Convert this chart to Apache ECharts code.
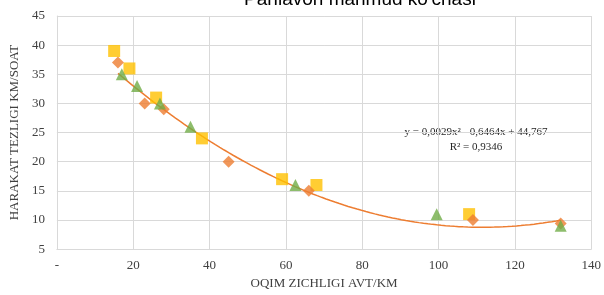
<!DOCTYPE html>
<html>
<head>
<meta charset="utf-8">
<script src="https://cdn.jsdelivr.net/npm/echarts@6/dist/echarts.min.js"></script>
<style>html,body{margin:0;padding:0;background:#fff}#c{width:604px;height:295px}</style>
</head>
<body>
<div id="c"></div>
<script>
const chartTitle = "Pahlavon mahmud ko'chasi";
const xAxisName = "OQIM ZICHLIGI AVT/KM";
const yAxisName = "HARAKAT TEZLIGI KM/SOAT";
const squareX = [15, 19, 26, 38, 59, 68, 108];
const squareY = [39, 36, 31, 24, 17, 16, 11];
const diamondX = [16, 23, 28, 45, 66, 109, 132];
const diamondY = [37, 30, 29, 20, 15, 10, 9.4];
const triangleX = [17, 21, 27, 35, 62.5, 99.5, 132];
const triangleY = [35, 33, 30, 26, 16, 11, 9];
const trendCoef = [0.0029, -0.6464, 44.767];
const trendText = "y = 0,0029x² - 0,6464x + 44,767\nR² = 0,9346";

const zip = (xs, ys) => xs.map((x, i) => [x, ys[i]]);
const xmin = Math.min(...diamondX), xmax = Math.max(...diamondX);
const trend = [];
for (let i = 0; i <= 100; i++) {
  const x = xmin + (xmax - xmin) * i / 100;
  trend.push([x, trendCoef[0] * x * x + trendCoef[1] * x + trendCoef[2]]);
}
const serif = "Liberation Serif";
const chart = echarts.init(document.getElementById('c'));
chart.setOption({
  animation: false,
  title: {
    text: chartTitle, left: 355, top: -15, textAlign: 'center',
    textStyle: { fontFamily: 'Liberation Sans', fontSize: 19, fontWeight: 'normal', color: '#000' }
  },
  grid: { left: 53, right: 11, top: 16, bottom: 44, containLabel: false },
  xAxis: {
    type: 'value', min: 0, max: 140, interval: 20,
    name: xAxisName, nameLocation: 'middle', nameGap: 26,
    nameTextStyle: { fontFamily: serif, fontSize: 13, color: '#404040' },
    axisLine: { show: true, lineStyle: { color: '#d9d9d9' } },
    axisTick: { show: false },
    splitLine: { show: true, lineStyle: { color: '#d9d9d9', width: 1 } },
    axisLabel: { fontFamily: serif, fontSize: 13, color: '#404040', margin: 10,
      formatter: v => v === 0 ? '-' : String(v) }
  },
  yAxis: {
    type: 'value', min: 5, max: 45, interval: 5,
    name: yAxisName, nameLocation: 'middle', nameGap: 29, nameRotate: 90,
    nameTextStyle: { fontFamily: serif, fontSize: 13, color: '#404040' },
    axisLine: { show: true, lineStyle: { color: '#d9d9d9' } },
    axisTick: { show: false },
    splitLine: { show: true, lineStyle: { color: '#d9d9d9', width: 1 } },
    axisLabel: { fontFamily: serif, fontSize: 13, color: '#404040', margin: 12 }
  },
  series: [
    { type: 'line', data: trend, showSymbol: false, symbol: 'none', smooth: false,
      lineStyle: { color: '#ED7D31', width: 1.5 }, z: 1, silent: true },
    { type: 'scatter', data: zip(squareX, squareY), symbol: 'rect', symbolSize: 12,
      itemStyle: { color: '#FFC000' }, z: 2 },
    { type: 'scatter', data: zip(diamondX, diamondY), symbol: 'diamond', symbolSize: 12,
      itemStyle: { color: '#ED7D31' }, z: 3 },
    { type: 'scatter', data: zip(triangleX, triangleY), symbol: 'triangle', symbolSize: 12,
      itemStyle: { color: '#70AD47' }, z: 4 }
  ],
  graphic: [{
    type: 'text', x: 476, y: 125, style: {
      text: trendText, align: 'center', verticalAlign: 'top',
      font: '11px "Liberation Serif"', fill: '#262626', lineHeight: 15
    }
  }]
});
</script>
</body>
</html>
